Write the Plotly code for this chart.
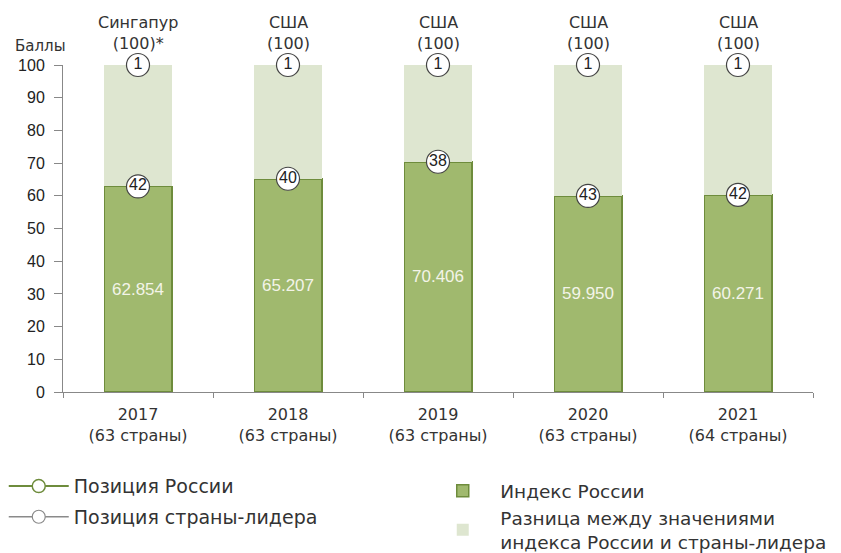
import plotly.graph_objects as go

# ---- data ----
years = ["2017", "2018", "2019", "2020", "2021"]
countries_count = [63, 63, 63, 63, 64]
russia_index = [62.854, 65.207, 70.406, 59.950, 60.271]
russia_rank = [42, 40, 38, 43, 42]
leader_names = ["Сингапур", "США", "США", "США", "США"]
leader_index = [100, 100, 100, 100, 100]
leader_rank = [1, 1, 1, 1, 1]
leader_notes = ["*", "", "", "", ""]
y_ticks = [0, 10, 20, 30, 40, 50, 60, 70, 80, 90, 100]

categories = [f"{y}<br>({n} страны)" for y, n in zip(years, countries_count)]
gap_values = [l - r for l, r in zip(leader_index, russia_index)]

DARK = "#a0b96e"
DARK_LINE = "#6e8c3c"
LIGHT = "#dee6d0"
HUM = "DejaVu Sans, Verdana, sans-serif"
ARIAL = "Liberation Sans, Arial, sans-serif"

fig = go.Figure()

fig.add_trace(go.Bar(
    x=categories, y=russia_index, name="Индекс России",
    marker=dict(color=DARK, line=dict(color=DARK_LINE, width=1.5)),
    texttemplate="%{y:.3f}", textposition="inside", insidetextanchor="middle",
    textfont=dict(family=ARIAL, size=17, color="#f3f4e8"),
    width=0.45, legend="legend2", legendgroup="g1", hoverinfo="skip",
))
fig.add_trace(go.Bar(
    x=categories, y=gap_values,
    name="Разница между значениями<br>индекса России и страны-лидера",
    marker=dict(color=LIGHT, line=dict(color=LIGHT, width=0)),
    width=0.45, legend="legend2", legendgroup="g2", hoverinfo="skip",
))

# leader positions with grey line at top of bar
fig.add_trace(go.Scatter(
    x=categories, y=leader_index, mode="markers+text",
    text=[str(v) for v in leader_rank], textposition="middle center",
    textfont=dict(family=ARIAL, size=16, color="#222"),
    marker=dict(symbol="circle", size=23, color="white", line=dict(color="#444", width=1.2)),
    error_x=dict(type="constant", value=0.225, symmetric=True, width=0, thickness=1.5, color="#9a9a9a"),
    showlegend=False, hoverinfo="skip", cliponaxis=False,
))
# Russia positions
fig.add_trace(go.Scatter(
    x=categories, y=russia_index, mode="markers+text",
    text=[str(v) for v in russia_rank], textposition="middle center",
    textfont=dict(family=ARIAL, size=16, color="#222"),
    marker=dict(symbol="circle", size=23, color="white", line=dict(color="#444", width=1.2)),
    showlegend=False, hoverinfo="skip", cliponaxis=False,
))

# legend-only entries
fig.add_trace(go.Scatter(
    x=[None], y=[None], mode="lines+markers", name="Позиция России",
    line=dict(color=DARK_LINE, width=2),
    marker=dict(symbol="circle", size=13, color="white", line=dict(color=DARK_LINE, width=1.5)),
    legend="legend", legendgroup="p1",
))
fig.add_trace(go.Scatter(
    x=[None], y=[None], mode="lines+markers", name="Позиция страны-лидера",
    line=dict(color="#8a8a8a", width=1.5),
    marker=dict(symbol="circle", size=13, color="white", line=dict(color="#8a8a8a", width=1.2)),
    legend="legend", legendgroup="p2",
))

# leader names above bars
for cat, name, score, note in zip(categories, leader_names, leader_index, leader_notes):
    fig.add_annotation(
        x=cat, xref="x", y=1, yref="paper", yanchor="bottom", yshift=10,
        text=f"{name}<br>({score}){note}",
        showarrow=False, font=dict(family=HUM, size=16, color="#333"),
    )

fig.add_annotation(
    x=-0.067, xref="paper", xanchor="left", y=1.058, yref="paper", yanchor="middle",
    text="Баллы", showarrow=False, font=dict(family=HUM, size=15, color="#333"),
)

fig.update_layout(
    width=841, height=553,
    margin=dict(l=55, r=36, t=57, b=169, autoexpand=False),
    paper_bgcolor="white", plot_bgcolor="white",
    barmode="stack", bargap=0.55,
    xaxis=dict(
        type="category", tickson="boundaries", ticks="outside", ticklen=5,
        tickcolor="#888", showline=True, linecolor="#888", linewidth=1,
        showgrid=False, tickfont=dict(family=HUM, size=16, color="#333"),
        ticklabelstandoff=8, automargin=False,
    ),
    yaxis=dict(
        range=[0, 100], tickvals=y_ticks, ticks="outside", ticklen=8,
        tickcolor="#888", showline=True, linecolor="#888", linewidth=1,
        showgrid=False, zeroline=False, ticklabelstandoff=6,
        tickfont=dict(family=ARIAL, size=16, color="#222"),
        automargin=False,
    ),
    legend=dict(
        x=-0.079, xanchor="left", y=-0.23, yanchor="top",
        font=dict(family=HUM, size=19, color="#333"),
        bgcolor="rgba(0,0,0,0)", tracegroupgap=3, itemwidth=60,
    ),
    legend2=dict(
        x=0.483, xanchor="left", y=-0.245, yanchor="top",
        font=dict(family=HUM, size=18.5, color="#333"),
        bgcolor="rgba(0,0,0,0)", traceorder="normal", tracegroupgap=11,
        itemwidth=65,
    ),
)

fig.write_html("out.html")
